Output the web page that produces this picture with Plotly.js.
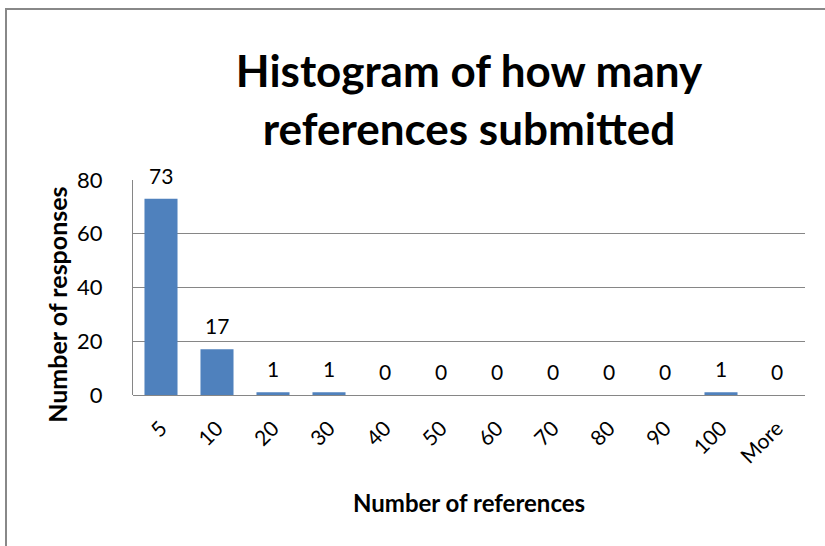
<!DOCTYPE html>
<html>
<head>
<meta charset="utf-8">
<script src="https://cdn.plot.ly/plotly-3.0.1.min.js"></script>
<style>
  html, body { margin: 0; padding: 0; background: #fff; }
  #frame { position: absolute; left: 5px; top: 8px; width: 830px; height: 560px;
           border-left: 2px solid #888; border-top: 2px solid #888; pointer-events: none; }
  #chart { position: absolute; left: 0; top: 0; width: 825px; height: 546px; }
</style>
</head>
<body>
<div id="chart"></div>
<div id="frame"></div>
<script>
const categories = ["5", "10", "20", "30", "40", "50", "60", "70", "80", "90", "100", "More"];
const counts = [73, 17, 1, 1, 0, 0, 0, 0, 0, 0, 1, 0];
const yTicks = [0, 20, 40, 60, 80];
const titleText = "Histogram of how many<br>references submitted";
const xTitle = "Number of references";
const yTitle = "Number of responses";

const FONT = "Lato, 'Open Sans', sans-serif";

const trace = {
  type: "bar",
  x: categories,
  y: counts,
  marker: { color: "#4F81BD", line: { width: 0 } },
  hoverinfo: "x+y"
};

const annotations = categories.map((c, i) => ({
  x: i, y: counts[i], xref: "x", yref: "y",
  text: String(counts[i]), showarrow: false,
  yanchor: "bottom", yshift: 9,
  font: { family: FONT, size: 21, color: "#000" }
}));

annotations.push({
  xref: "paper", yref: "paper", x: 0.5, y: -0.502,
  xanchor: "center", yanchor: "middle", showarrow: false,
  text: xTitle,
  font: { family: FONT, size: 24, color: "#000", weight: "bold" }
});
annotations.push({
  xref: "paper", yref: "paper", x: -0.113, y: 0.42,
  xanchor: "center", yanchor: "middle", showarrow: false, textangle: -90,
  text: yTitle,
  font: { family: FONT, size: 25, color: "#000", weight: "bold" }
});

const layout = {
  width: 825, height: 546,
  margin: { l: 133, r: 20, t: 180, b: 151 },
  paper_bgcolor: "#fff", plot_bgcolor: "#fff",
  bargap: 0.41,
  showlegend: false,
  title: {
    text: titleText,
    font: { family: FONT, size: 44, color: "#000", weight: "bold" },
    x: 0.5, xref: "paper", y: 0.84, yref: "container", yanchor: "middle"
  },
  xaxis: {
    type: "category",
    range: [-0.5, categories.length - 0.5],
    tickangle: -45,
    tickfont: { family: FONT, size: 21, color: "#000" },
    showline: false, showgrid: false, ticks: "", ticklabelstandoff: 16
  },
  yaxis: {
    range: [0, 80],
    tickvals: yTicks,
    tickfont: { family: FONT, size: 22, color: "#000" },
    showline: true, linecolor: "#868686", linewidth: 1,
    showgrid: true, gridcolor: "#868686", gridwidth: 1,
    zeroline: true, zerolinecolor: "#868686", zerolinewidth: 1,
    ticks: "", ticklen: 0, ticklabelstandoff: 25
  },
  annotations: annotations
};

Plotly.newPlot("chart", [trace], layout, { displayModeBar: false, staticPlot: true });
</script>
</body>
</html>
